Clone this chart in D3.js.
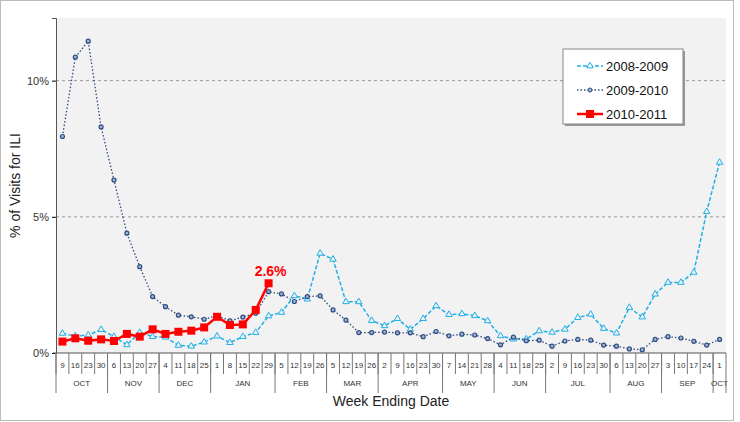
<!DOCTYPE html>
<html><head><meta charset="utf-8">
<script src="https://cdn.jsdelivr.net/npm/d3@7"></script>
<style>body{margin:0;background:#fff}svg{font-family:Arial,"Liberation Sans",sans-serif}</style>
</head><body><svg id="c" width="740" height="422"></svg>
<script>
const weeks=[9,16,23,30,6,13,20,27,4,11,18,25,1,8,15,22,29,5,12,19,26,5,12,19,26,2,9,16,23,30,7,14,21,28,4,11,18,25,2,9,16,23,30,6,13,20,27,3,10,17,24,1];
const months=[["OCT",4],["NOV",4],["DEC",4],["JAN",5],["FEB",4],["MAR",4],["APR",5],["MAY",4],["JUN",4],["JUL",5],["AUG",4],["SEP",4],["OCT",1]];
const s0809=[0.72,0.62,0.66,0.86,0.6,0.3,0.75,0.6,0.58,0.28,0.25,0.4,0.62,0.38,0.6,0.75,1.36,1.49,2.1,1.98,3.66,3.44,1.88,1.88,1.19,1.0,1.26,0.87,1.26,1.73,1.41,1.44,1.37,1.18,0.63,0.51,0.51,0.81,0.76,0.87,1.3,1.42,0.9,0.73,1.67,1.32,2.16,2.59,2.59,2.96,5.19,7.0];
const s0910=[7.95,10.86,11.45,8.3,6.35,4.4,3.17,2.07,1.7,1.39,1.33,1.24,1.37,1.18,1.32,1.46,2.25,2.17,1.89,2.07,2.1,1.58,1.21,0.75,0.75,0.77,0.74,0.74,0.6,0.79,0.63,0.69,0.66,0.53,0.3,0.58,0.45,0.47,0.25,0.44,0.5,0.47,0.29,0.25,0.15,0.12,0.5,0.6,0.55,0.43,0.29,0.5];
const s1011=[0.42,0.54,0.45,0.5,0.44,0.7,0.6,0.87,0.7,0.78,0.82,0.94,1.33,1.03,1.05,1.58,2.56];
const yTicks=[0,5,10];
const svg=d3.select("#c");
svg.append("rect").attr("x",0.5).attr("y",0.5).attr("width",733).attr("height",420).attr("fill","#fff").attr("stroke","#bbb");
const L=56,R=726,T=18,B=353;
const x=d3.scaleBand().domain(d3.range(weeks.length)).range([L,R]);
const cx=i=>x(i)+x.bandwidth()/2;
const y=d3.scaleLinear().domain([0,12.3]).range([B,T]);
svg.append("rect").attr("x",L).attr("y",T).attr("width",R-L).attr("height",B-T).attr("fill","#f2f2f2");
yTicks.filter(t=>t>0).forEach(t=>svg.append("line").attr("x1",L).attr("x2",R).attr("y1",y(t)).attr("y2",y(t)).attr("stroke","#999").attr("stroke-dasharray","3,3"));
svg.append("g").attr("transform",`translate(${L},0)`).call(d3.axisLeft(y).tickValues(yTicks).tickFormat(d=>d+"%").tickSize(4))
 .call(g=>{g.select(".domain").attr("stroke","#555");g.selectAll("text").attr("font-size",11).attr("fill","#333");});
svg.append("text").attr("transform",`translate(20,${(T+B)/2}) rotate(-90)`).attr("text-anchor","middle").attr("font-size",14).attr("fill","#222").text("% of Visits for ILI");
// x table
svg.append("line").attr("x1",L-3).attr("x2",R).attr("y1",B).attr("y2",B).attr("stroke","#555");
weeks.forEach((w,i)=>{
 svg.append("text").attr("x",cx(i)).attr("y",B+15).attr("text-anchor","middle").attr("font-size",8).attr("fill","#333").text(w);
 svg.append("line").attr("x1",x(i)).attr("x2",x(i)).attr("y1",B).attr("y2",B+21).attr("stroke","#777");
});
let idx=0;
months.forEach(([m,n])=>{
 const x0=x(idx),x1=x(idx+n-1)+x.bandwidth();
 svg.append("line").attr("x1",x0).attr("x2",x0).attr("y1",B).attr("y2",B+40).attr("stroke","#777");
 svg.append("text").attr("x",(x0+x1)/2).attr("y",B+33).attr("text-anchor","middle").attr("font-size",8).attr("fill","#333").text(m);
 idx+=n;
});
svg.append("line").attr("x1",R).attr("x2",R).attr("y1",B).attr("y2",B+40).attr("stroke","#777");
svg.append("text").attr("x",(L+R)/2).attr("y",406).attr("text-anchor","middle").attr("font-size",14).attr("fill","#222").text("Week Ending Date");
const line=d3.line().x((d,i)=>cx(i)).y(d=>y(d));
// 2008-2009
svg.append("path").datum(s0809).attr("d",line).attr("fill","none").attr("stroke","#1fb0e8").attr("stroke-width",1.5).attr("stroke-dasharray","4,2");
const tri=d3.symbol().type(d3.symbolTriangle).size(18);
svg.append("g").selectAll("path").data(s0809).join("path").attr("d",tri).attr("transform",(d,i)=>`translate(${cx(i)},${y(d)})`).attr("fill","#f2f2f2").attr("stroke","#1fb0e8");
// 2009-2010
svg.append("path").datum(s0910).attr("d",line).attr("fill","none").attr("stroke","#2e4d80").attr("stroke-width",1.3).attr("stroke-dasharray","1.5,2");
svg.append("g").selectAll("circle").data(s0910).join("circle").attr("cx",(d,i)=>cx(i)).attr("cy",d=>y(d)).attr("r",2).attr("fill","#9fb4d4").attr("stroke","#2e4d80").attr("stroke-width",1.2);
// 2010-2011
svg.append("path").datum(s1011).attr("d",line).attr("fill","none").attr("stroke","#ff0000").attr("stroke-width",2.5);
svg.append("g").selectAll("rect").data(s1011).join("rect").attr("x",(d,i)=>cx(i)-4).attr("y",d=>y(d)-4).attr("width",8).attr("height",8).attr("fill","#ff0000");
const last=s1011.length-1;
svg.append("text").attr("x",cx(last)+2).attr("y",y(s1011[last])-7).attr("text-anchor","middle").attr("font-size",14).attr("font-weight","bold").attr("fill","#ff0000").text(s1011[last].toFixed(1)+"%");
// legend
const lg=svg.append("g").attr("transform","translate(563,49)");
lg.append("rect").attr("x",2).attr("y",2).attr("width",120).attr("height",75).attr("fill","#999");
lg.append("rect").attr("width",120).attr("height",75).attr("fill","#fff").attr("stroke","#888");
const items=[["2008-2009","#1fb0e8","4,2"],["2009-2010","#2e4d80","1.5,2"],["2010-2011","#ff0000",null]];
items.forEach(([t,c,da],k)=>{
 const yy=17+k*24;
 const ln=lg.append("line").attr("x1",14).attr("x2",40).attr("y1",yy).attr("y2",yy).attr("stroke",c).attr("stroke-width",k==2?2.5:1.5);
 if(da)ln.attr("stroke-dasharray",da);
 if(k==0)lg.append("path").attr("d",tri).attr("transform",`translate(27,${yy})`).attr("fill","#fff").attr("stroke",c);
 if(k==1)lg.append("circle").attr("cx",27).attr("cy",yy).attr("r",2).attr("fill","#9fb4d4").attr("stroke",c);
 if(k==2)lg.append("rect").attr("x",23).attr("y",yy-4).attr("width",8).attr("height",8).attr("fill",c);
 lg.append("text").attr("x",43).attr("y",yy+5).attr("font-size",13).attr("fill","#111").text(t);
});
</script></body></html>
